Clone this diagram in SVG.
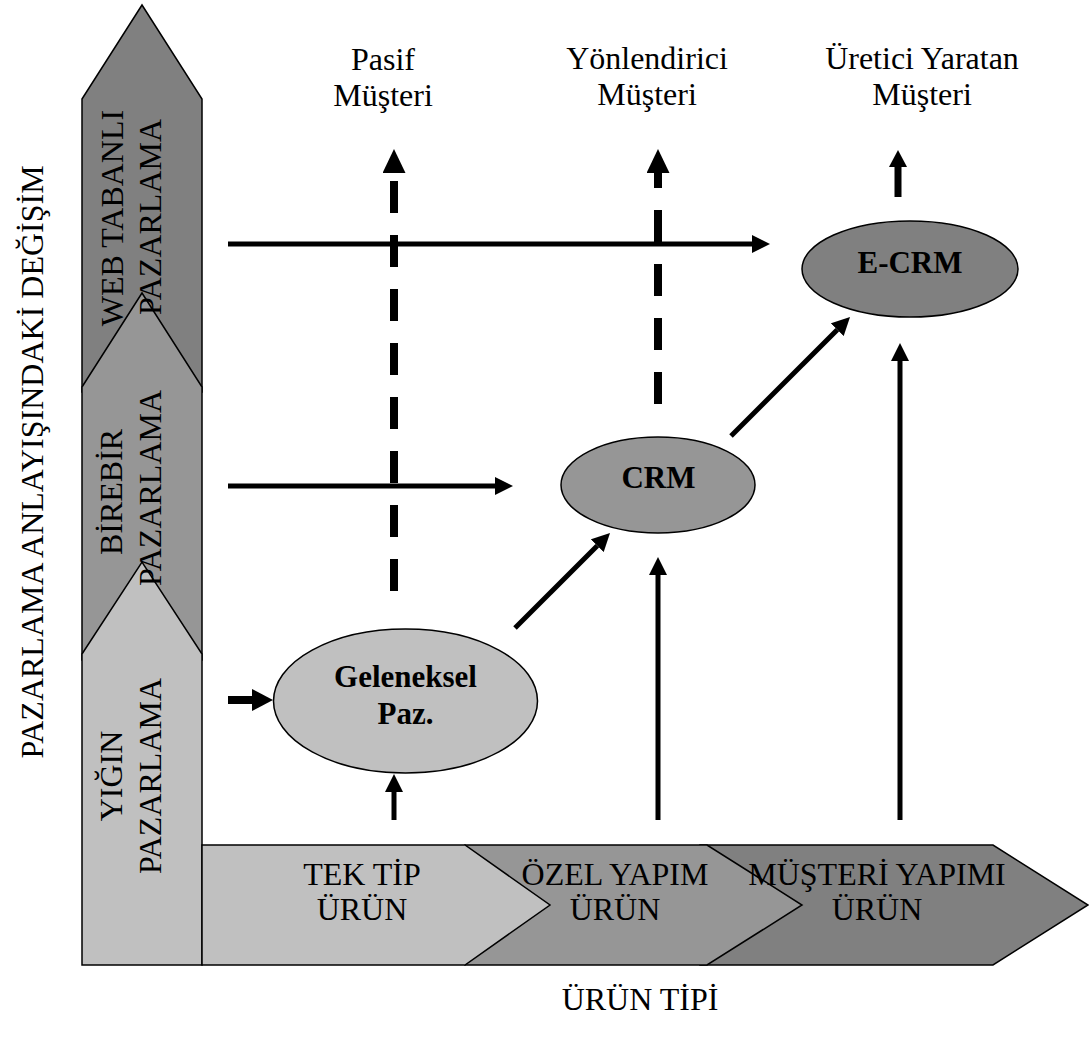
<svg xmlns="http://www.w3.org/2000/svg" width="1089" height="1037" viewBox="0 0 1089 1037">
  <style>
    text { font-family: "Liberation Serif", "Times New Roman", serif; font-size: 32px; fill: #000; }
    .c { text-anchor: middle; }
    .b { font-weight: bold; font-size: 31px; }
    .shape { stroke: #000; stroke-width: 1.5; stroke-linejoin: miter; }
    .g1 { fill: #c0c0c0; }
    .g2 { fill: #969696; }
    .g3 { fill: #808080; }
    .arr { stroke: #000; stroke-width: 5; fill: none; marker-end: url(#head); }
    .arrThick { stroke: #000; stroke-width: 8; fill: none; marker-end: url(#headThick); }
    .dash { stroke: #000; stroke-width: 8; fill: none; stroke-dasharray: 32 22; marker-start: url(#headDash); }
  </style>
  <defs>
    <marker id="head" markerUnits="userSpaceOnUse" markerWidth="18" markerHeight="18" refX="0" refY="9" orient="auto">
      <path d="M0,0 L18,9 L0,18 z" fill="#000"/>
    </marker>
    <marker id="headThick" markerUnits="userSpaceOnUse" markerWidth="22" markerHeight="22" refX="0" refY="11" orient="auto">
      <path d="M0,0 L21,11 L0,22 z" fill="#000"/>
    </marker>
    <marker id="headDash" markerUnits="userSpaceOnUse" markerWidth="24" markerHeight="24" refX="0" refY="11.5" orient="auto-start-reverse">
      <path d="M0,0 L24,11.5 L0,23 z" fill="#000"/>
    </marker>
    <marker id="headDashSmall" markerUnits="userSpaceOnUse" markerWidth="18" markerHeight="18" refX="0" refY="9" orient="auto-start-reverse">
      <path d="M0,0 L17,9 L0,18 z" fill="#000"/>
    </marker>
  </defs>

  <!-- vertical axis: marketing approach stages (shapes) -->
  <g id="web-tabanli">
    <polygon class="shape g3" points="82,99 142,5 202,99 202,392 82,392"/>
  </g>
  <g id="birebir">
    <polygon class="shape g2" points="82,387 142,293 202,387 202,660 82,660"/>
  </g>
  <g id="yigin">
    <polygon class="shape g1" points="82,654 142,562 202,654 202,965 82,965"/>
  </g>

  <!-- horizontal axis: product types (shapes) -->
  <g id="musteri-yapimi">
    <polygon class="shape g3" points="700,845 993,845 1088,905 993,965 700,965"/>
  </g>
  <g id="ozel-yapim">
    <polygon class="shape g2" points="465,845 707,845 802,905 707,965 465,965"/>
  </g>
  <g id="tek-tip">
    <polygon class="shape g1" points="202,845 465,845 550,905 465,965 202,965"/>
  </g>

  <!-- stage labels, written over the overlapping chevrons -->
  <g id="web-tabanli-label">
    <text class="c" transform="translate(123,218) rotate(-90)">WEB TABANLI</text>
    <text class="c" transform="translate(161,217) rotate(-90)">PAZARLAMA</text>
  </g>
  <g id="birebir-label">
    <text class="c" transform="translate(122,492) rotate(-90)">BİREBİR</text>
    <text class="c" transform="translate(161,488) rotate(-90)">PAZARLAMA</text>
  </g>
  <g id="yigin-label">
    <text class="c" transform="translate(122,776) rotate(-90)">YIĞIN</text>
    <text class="c" transform="translate(161,776) rotate(-90)">PAZARLAMA</text>
  </g>
  <g id="musteri-yapimi-label">
    <text class="c" x="877" y="885">MÜŞTERİ YAPIMI</text>
    <text class="c" x="877" y="920">ÜRÜN</text>
  </g>
  <g id="ozel-yapim-label">
    <text class="c" x="615" y="885">ÖZEL YAPIM</text>
    <text class="c" x="615" y="920">ÜRÜN</text>
  </g>
  <g id="tek-tip-label">
    <text class="c" x="362" y="885">TEK TİP</text>
    <text class="c" x="362" y="920">ÜRÜN</text>
  </g>

  <!-- axis titles -->
  <g id="axis-titles">
    <text class="c" transform="translate(43,462) rotate(-90)">PAZARLAMA ANLAYIŞINDAKİ DEĞİŞİM</text>
    <text class="c" x="640" y="1010">ÜRÜN TİPİ</text>
  </g>

  <!-- customer types -->
  <g id="pasif">
    <text class="c" x="383" y="70">Pasif</text>
    <text class="c" x="383" y="106">Müşteri</text>
  </g>
  <g id="yonlendirici">
    <text class="c" x="647" y="69">Yönlendirici</text>
    <text class="c" x="647" y="105">Müşteri</text>
  </g>
  <g id="uretici">
    <text class="c" x="922" y="69">Üretici Yaratan</text>
    <text class="c" x="922" y="105">Müşteri</text>
  </g>

  <!-- connectors -->
  <g id="connectors">
    <line class="arr" x1="228" y1="244" x2="752" y2="244"/>
    <line class="arr" x1="228" y1="486" x2="495" y2="486"/>
    <line class="arrThick" x1="228" y1="700" x2="252" y2="700"/>
    <line class="arr" x1="394" y1="820" x2="394" y2="792"/>
    <line class="arr" x1="658" y1="820" x2="658" y2="575"/>
    <line class="arr" x1="900" y1="820" x2="900" y2="361"/>
    <line class="arr" x1="515" y1="628" x2="597.3" y2="545.7"/>
    <line class="arr" x1="731" y1="436" x2="837.3" y2="329.7"/>
    <line class="dash" x1="394" y1="173" x2="394" y2="605" stroke-dashoffset="46"/>
    <line class="dash" x1="658" y1="173" x2="658" y2="410" stroke-dashoffset="17"/>
    <line class="dash" x1="898" y1="167" x2="898" y2="197" stroke-dasharray="0 6 24 100" style="stroke-width:7; marker-start:url(#headDashSmall)"/>
  </g>

  <!-- marketing approach nodes -->
  <g id="geleneksel">
    <ellipse class="shape g1" cx="405.5" cy="701" rx="132" ry="72"/>
    <text class="c b" x="405.5" y="687">Geleneksel</text>
    <text class="c b" x="405.5" y="724">Paz.</text>
  </g>
  <g id="crm">
    <ellipse class="shape g2" cx="658" cy="485" rx="97" ry="48"/>
    <text class="c b" x="658.5" y="488">CRM</text>
  </g>
  <g id="e-crm">
    <ellipse class="shape g3" cx="910" cy="269" rx="108" ry="48"/>
    <text class="c b" x="910" y="273">E-CRM</text>
  </g>
</svg>
